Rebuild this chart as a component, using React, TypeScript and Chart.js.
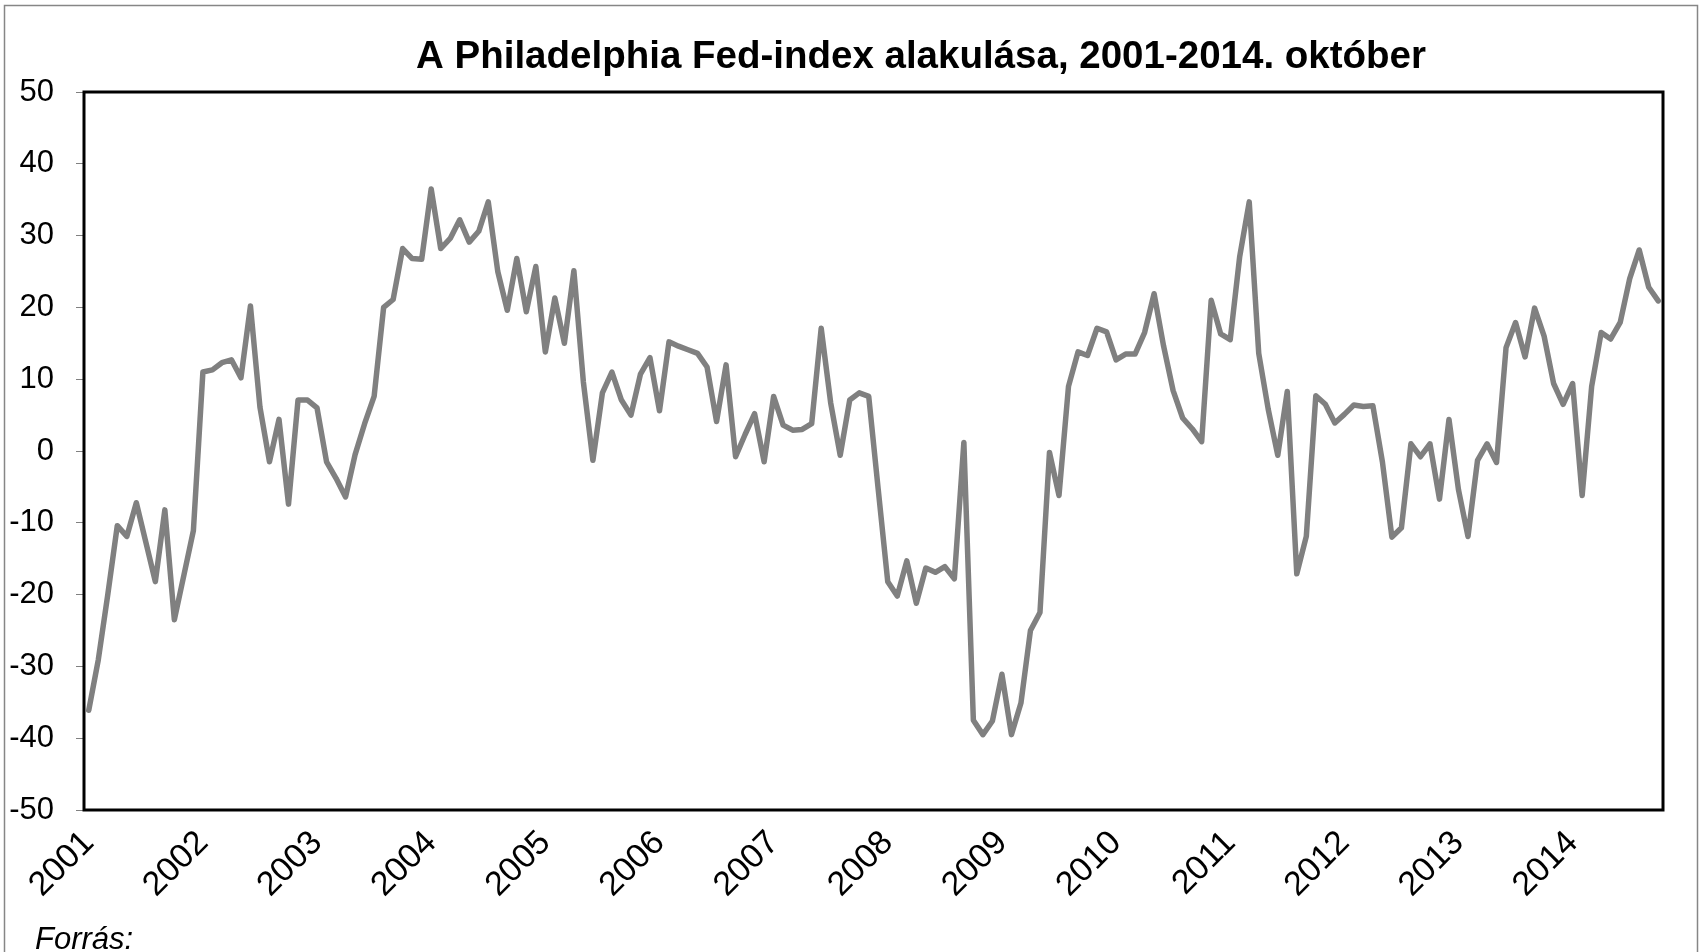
import React, { useEffect, useRef } from "react";
import { Chart, registerables } from "chart.js";

Chart.register(...registerables);

const TITLE = "A Philadelphia Fed-index alakulása, 2001-2014. október";
const SOURCE = "Forrás:";
const FONT = "'Liberation Sans', Arial, Helvetica, sans-serif";

const YEARS = ["2001", "2002", "2003", "2004", "2005", "2006", "2007", "2008", "2009", "2010", "2011", "2012", "2013", "2014"];
const MONTHS_LAST_YEAR = 10;

const V2001 = [-36.1, -29.1, -20.0, -10.4, -11.9, -7.2, -12.7, -18.2, -8.2, -23.5, -17.3, -11.1];
const V2002 = [11.0, 11.3, 12.3, 12.7, 10.2, 20.2, 6.1, -1.5, 4.4, -7.4, 7.1, 7.1];
const V2003 = [6.0, -1.5, -3.8, -6.4, -0.5, 3.8, 7.6, 20.0, 21.1, 28.2, 26.8, 26.7];
const V2004 = [36.5, 28.2, 29.6, 32.2, 29.1, 30.6, 34.7, 25.0, 19.6, 26.8, 19.4, 25.7];
const V2005 = [13.8, 21.3, 15.0, 25.1, 9.6, -1.3, 8.1, 11.0, 7.1, 5.0, 10.7, 13.0];
const V2006 = [5.6, 15.2, 14.6, 14.1, 13.6, 11.7, 4.1, 12.0, -0.8, 2.3, 5.2, -1.5];
const V2007 = [7.6, 3.6, 2.9, 3.0, 3.8, 17.1, 6.7, -0.6, 7.1, 8.1, 7.6, -5.4];
const V2008 = [-18.2, -20.2, -15.3, -21.2, -16.3, -16.9, -16.1, -17.8, 1.2, -37.5, -39.5, -37.6];
const V2009 = [-31.1, -39.5, -35.1, -25.0, -22.5, -0.2, -6.2, 9.0, 13.8, 13.3, 17.1, 16.6];
const V2010 = [12.7, 13.5, 13.5, 16.5, 21.9, 14.6, 8.4, 4.6, 3.1, 1.3, 21.0, 16.3];
const V2011 = [15.5, 27.1, 34.7, 13.6, 5.8, -0.6, 8.3, -17.1, -11.9, 7.7, 6.5, 3.9];
const V2012 = [5.1, 6.4, 6.2, 6.3, -1.5, -12.0, -10.7, 1.0, -0.8, 1.0, -6.7, 4.4];
const V2013 = [-5.4, -11.9, -1.3, 1.0, -1.6, 14.4, 17.9, 13.1, 19.9, 16.0, 9.4, 6.5];
const V2014 = [9.4, -6.2, 9.0, 16.5, 15.6, 17.9, 24.0, 28.0, 22.8, 20.9];

const Y_MIN = -50;
const Y_MAX = 50;
const Y_STEP = 10;

const VALUES: number[] = [
  ...V2001, ...V2002, ...V2003, ...V2004, ...V2005, ...V2006, ...V2007,
  ...V2008, ...V2009, ...V2010, ...V2011, ...V2012, ...V2013, ...V2014,
];

const CATEGORIES: string[] = [];
YEARS.forEach((y, yi) => {
  const n = yi === YEARS.length - 1 ? MONTHS_LAST_YEAR : 12;
  for (let m = 1; m <= n; m++) CATEGORIES.push(`${y}-${String(m).padStart(2, "0")}`);
});

const W = 1701;
const H = 952;

export default function App() {
  const ref = useRef<HTMLCanvasElement | null>(null);

  useEffect(() => {
    const canvas = ref.current;
    if (!canvas) return;

    const framePlugin = {
      id: "frame",
      beforeDraw(chart: any) {
        const ctx = chart.ctx;
        ctx.save();
        ctx.fillStyle = "#ffffff";
        ctx.fillRect(0, 0, W, H);
        ctx.strokeStyle = "#868686";
        ctx.lineWidth = 1.5;
        ctx.strokeRect(4.5, 5.5, 1693, 1100);
        // title
        ctx.fillStyle = "#000000";
        ctx.font = `bold 38.5px ${FONT}`;
        ctx.textAlign = "center";
        ctx.textBaseline = "middle";
        ctx.fillText(TITLE, 921, 57);
        // source
        ctx.font = `italic 31px ${FONT}`;
        ctx.textAlign = "left";
        ctx.textBaseline = "alphabetic";
        ctx.fillText(SOURCE, 35, 949);
        ctx.restore();
      },
      afterDatasetsDraw(chart: any) {
        const { ctx, chartArea } = chart;
        ctx.save();
        ctx.strokeStyle = "#000000";
        ctx.lineWidth = 3;
        ctx.strokeRect(chartArea.left, chartArea.top, chartArea.right - chartArea.left, chartArea.bottom - chartArea.top);
        ctx.restore();
      },
    };

    const chart = new Chart(canvas, {
      type: "line",
      data: {
        labels: CATEGORIES,
        datasets: [
          {
            label: "Philadelphia Fed-index",
            data: VALUES,
            borderColor: "#808080",
            backgroundColor: "#808080",
            borderWidth: 5.5,
            pointRadius: 0,
            pointHoverRadius: 0,
            tension: 0,
            fill: false,
            borderJoinStyle: "round",
            borderCapStyle: "round",
          },
        ],
      },
      options: {
        responsive: false,
        animation: false,
        devicePixelRatio: 1,
        layout: { padding: { top: 92, right: 38, bottom: 0, left: 0 } },
        plugins: {
          legend: { display: false },
          title: { display: false },
          tooltip: { enabled: false },
        },
        scales: {
          x: {
            type: "category",
            offset: true,
            grid: { display: false, drawTicks: false },
            border: { display: false },
            ticks: {
              autoSkip: false,
              maxRotation: 45,
              minRotation: 45,
              padding: 13,
              color: "#000000",
              font: { family: FONT, size: 34 },
              callback: (_v: any, idx: number) => (idx % 12 === 0 ? YEARS[idx / 12] : ""),
            },
            afterFit: (scale: any) => {
              scale.height = 142;
            },
          },
          y: {
            min: Y_MIN,
            max: Y_MAX,
            ticks: {
              stepSize: Y_STEP,
              padding: 22,
              color: "#000000",
              font: { family: FONT, size: 31 },
            },
            grid: {
              display: true,
              drawOnChartArea: false,
              drawTicks: true,
              tickLength: 8,
              color: "#808080",
              lineWidth: 1,
            },
            border: { display: false },
            afterFit: (scale: any) => {
              scale.width = 84;
            },
          },
        },
      },
      plugins: [framePlugin],
    } as any);

    return () => chart.destroy();
  }, []);

  return (
    <div style={{ position: "absolute", left: 0, top: 0, width: W, height: H, background: "#fff" }}>
      <canvas ref={ref} width={W} height={H} style={{ width: W, height: H, display: "block" }} />
    </div>
  );
}
